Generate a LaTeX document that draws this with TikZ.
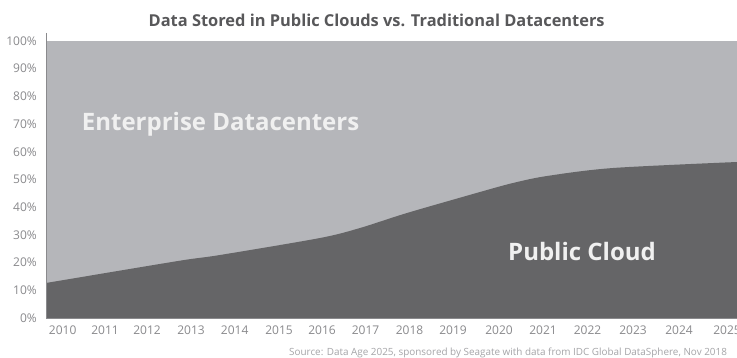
\documentclass[tikz,border=0pt]{standalone}
\usepackage{fontspec}
\setmainfont{Open Sans}
\usetikzlibrary{positioning}
\definecolor{chartlight}{RGB}{181,182,186}
\definecolor{chartdark}{RGB}{101,101,103}
\definecolor{axisgrey}{RGB}{138,138,141}
\definecolor{titlegrey}{RGB}{88,88,90}
\definecolor{sourcegrey}{RGB}{165,165,168}

\begin{document}
\begin{tikzpicture}[
x=1pt, y=1pt,
axistexts/.style = {text=axisgrey, inner sep=0pt, font=\fontsize{12}{13}\selectfont},
areatexts/.style = {text=white!94!black, inner sep=0pt, font=\bfseries\fontsize{24}{25}\selectfont},
titletexts/.style = {text=titlegrey, inner sep=0pt, font=\bfseries\fontsize{16.4}{17}\selectfont},
sourcetexts/.style = {text=sourcegrey, inner sep=0pt, font=\fontsize{9.9}{11}\selectfont},
axisline/.style = {draw=axisgrey, line width=1pt}
]
\useasboundingbox (0,0) rectangle (737,357);
\clip (0,0) rectangle (737,357);
\fill[white] (0,0) rectangle (737,357);

% stacked areas
\fill[chartlight] (46,39) rectangle (737,316);
\fill[chartdark] (46,39) -- plot[smooth] coordinates {(46,74) (178,96) (220,102) (320,119) (360,129) (407,144) (480,165) (513,174) (547,181) (613,189) (737,195)} -- (737,39) -- cycle;
\draw[axisline] (46,324) -- (46,39) -- (737,39);

\foreach \p in {0,10,...,100}
	\node[axistexts, anchor=east] (ylab\p) at (37,39+2.77*\p) {\p\%};
\foreach \yr/\xp in {2010/62.7, 2011/105, 2012/147, 2013/191, 2014/234.7, 2015/279, 2016/322, 2017/365.5, 2018/409.5, 2019/453, 2020/499, 2021/543, 2022/587.5, 2023/633, 2024/679, 2025/727}
	\node[axistexts, anchor=base] (year\yr) at (\xp,22.5) {\yr};

\node[titletexts, anchor=base] (title) at (376.7,330.5) {Data Stored in Public Clouds vs. Traditional Datacenters};
\node[areatexts, anchor=base west] (enterprise) at (81.7,227) {Enterprise Datacenters};
\node[areatexts, anchor=base west] (cloud) at (508,96.3) {Public Cloud};
\node[sourcetexts, anchor=base west] (source) at (289,1.5) {Source: Data Age 2025, sponsored by Seagate with data from IDC Global DataSphere, Nov 2018};
\end{tikzpicture}
\end{document}
